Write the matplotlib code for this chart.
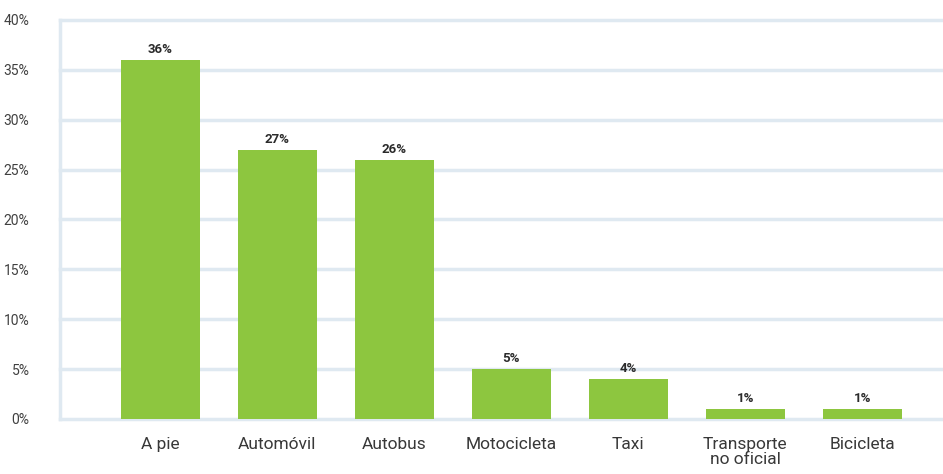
import matplotlib.pyplot as plt

modos = ["A pie", "Automóvil", "Autobus", "Motocicleta", "Taxi", "Transporte\nno oficial", "Bicicleta"]
porcentajes = [36, 27, 26, 5, 4, 1, 1]
ticks_y = [0, 5, 10, 15, 20, 25, 30, 35, 40]

verde = "#8dc63f"
rejilla = "#dfe9f1"

plt.rcParams["font.family"] = ["Roboto", "DejaVu Sans"]

fig = plt.figure(figsize=(9.43, 4.74), dpi=100)
ax = fig.add_axes([60 / 943, 55 / 474, 883 / 943, 399 / 474])

x = list(range(len(modos)))
ax.bar(x, porcentajes, width=0.675, color=verde, zorder=3)

for xi, v in zip(x, porcentajes):
    ax.text(xi, v + 0.4, f"{v}%", ha="center", va="bottom",
            fontsize=9.5, fontweight="bold", color="#2b2b2b", zorder=4)

ax.set_xlim(-0.855, 6.69)
ax.set_ylim(0, 40)
ax.set_yticks(ticks_y)
ax.set_yticklabels([f"{t}%" for t in ticks_y], fontsize=10, color="#404040")
ax.set_xticks(x)
ax.set_xticklabels(modos, fontsize=12.5, color="#383838", linespacing=1.0,
                   va="top")

for t in ticks_y:
    ax.axhline(t, color=rejilla, linewidth=2.5, zorder=1, clip_on=False)
ax.axvline(-0.855, color=rejilla, linewidth=2.5, zorder=1, clip_on=False)

for s in ax.spines.values():
    s.set_visible(False)
ax.tick_params(axis="both", length=0)
ax.tick_params(axis="y", pad=22)
ax.tick_params(axis="x", pad=13)

fig.savefig("out.png", dpi=100)
